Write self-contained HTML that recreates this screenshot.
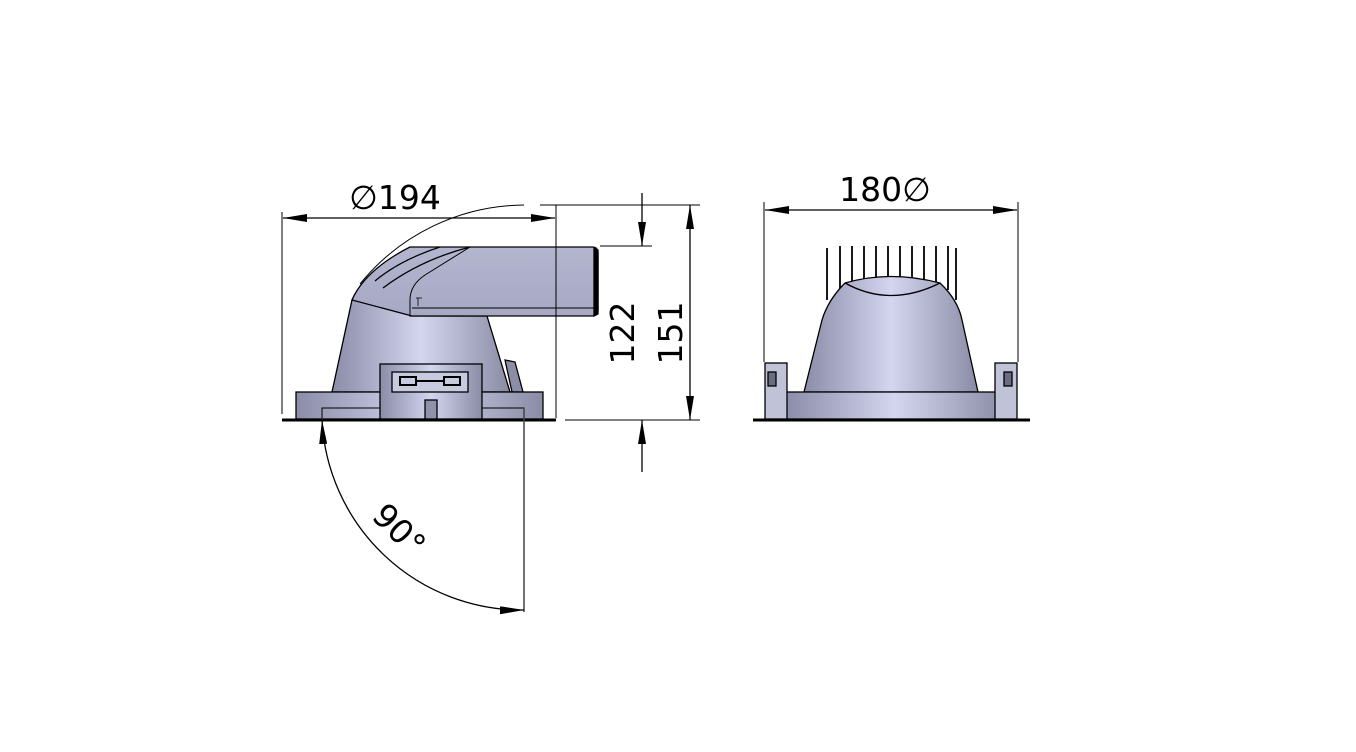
<!DOCTYPE html>
<html><head><style>html,body{margin:0;padding:0;background:#fff;}svg{display:block}</style></head>
<body>
<svg width="1356" height="752" viewBox="0 0 1356 752" xmlns="http://www.w3.org/2000/svg" font-family="DejaVu Sans, Liberation Sans, sans-serif">
<defs>
<linearGradient id="g" x1="0" x2="1" y1="0" y2="0">
<stop offset="0" stop-color="#8a8ca8"/><stop offset="0.5" stop-color="#d4d6f0"/><stop offset="1" stop-color="#8a8ca6"/>
</linearGradient>
<linearGradient id="gh" x1="0" x2="0" y1="0" y2="1">
<stop offset="0" stop-color="#b4b6d0"/><stop offset="1" stop-color="#a6a8c4"/>
</linearGradient>
<marker id="a" viewBox="0 0 24 8" refX="24" refY="4" markerWidth="24" markerHeight="8" markerUnits="userSpaceOnUse" orient="auto-start-reverse"><path d="M0,0 L24,4 L0,8z" fill="#000"/></marker>
</defs>
<g stroke="#000" stroke-width="1.3" fill="none">
<path d="M332,392 L352,300 Q360,282 375,276 L410,316 L487,316 L510,392 Z" fill="url(#g)"/>
<path d="M505,360 L515,362 L523,392 L512,392 Z" fill="#8c8ea8"/>
<path d="M352,300 Q365,270 410,247 L592,247 Q598,247 598,253 L598,310 Q598,316 592,316 L412,316 Z" fill="url(#gh)"/>
<path d="M594,248 L598,250 L598,314 L594,316 Z" fill="#000"/>
<path d="M375,281 Q400,260 440,247"/>
<path d="M383,288 Q420,260 470,247"/>
<path d="M410,316 L410,300 Q410,285 425,275 L470,247" stroke-width="1"/>
<path d="M412,308 L595,308" stroke-width="1"/>
<path d="M418,298 L418,306 M416,298 L422,298" stroke-width="0.8"/>
<rect x="296" y="392" width="247" height="27" fill="url(#g)"/>
<path d="M322,418 L322,408 L524,408 L524,418" stroke-width="1"/>
<rect x="380" y="364" width="102" height="55" fill="url(#g)"/>
<rect x="392" y="372" width="76" height="20" fill="#c8cae0"/>
<path d="M400,377 H416 V385 H400 Z M444,377 H460 V385 H444 Z M416,381 H444" stroke-width="2"/>
<rect x="425" y="400" width="12" height="19" fill="#9092ac"/>
<line x1="282" y1="420" x2="556" y2="420" stroke-width="3"/>
<line x1="282" y1="212" x2="282" y2="414" stroke-width="1"/>
<line x1="556" y1="205" x2="556" y2="418" stroke-width="1"/>
<line x1="283" y1="218" x2="555" y2="218" marker-start="url(#a)" marker-end="url(#a)"/>
<path d="M524,205 A213,213 0 0 0 360,284" stroke-width="1"/>
<line x1="540" y1="205" x2="700" y2="205" stroke-width="1"/>
<line x1="600" y1="246" x2="652" y2="246" stroke-width="1"/>
<line x1="565" y1="420" x2="700" y2="420" stroke-width="1"/>
<line x1="642" y1="193" x2="642" y2="246" marker-end="url(#a)"/>
<line x1="642" y1="472" x2="642" y2="420" marker-end="url(#a)"/>
<line x1="690" y1="205" x2="690" y2="420" marker-start="url(#a)" marker-end="url(#a)"/>
<line x1="524" y1="408" x2="524" y2="612" stroke-width="1.5" stroke="#444"/>
<path d="M322,420 A200,200 0 0 0 524,610" marker-start="url(#a)" marker-end="url(#a)"/>
<g stroke-width="1.8">
<line x1="827" y1="300" x2="827" y2="248"/><line x1="840" y1="290" x2="840" y2="246"/>
<line x1="852" y1="285" x2="852" y2="246"/><line x1="864" y1="282" x2="864" y2="246"/>
<line x1="876" y1="280" x2="876" y2="246"/><line x1="888" y1="280" x2="888" y2="246"/>
<line x1="900" y1="280" x2="900" y2="246"/><line x1="912" y1="280" x2="912" y2="246"/>
<line x1="924" y1="282" x2="924" y2="246"/><line x1="936" y1="285" x2="936" y2="246"/>
<line x1="948" y1="290" x2="948" y2="246"/><line x1="956" y1="300" x2="956" y2="248"/>
</g>
<path d="M804,392 L822,320 Q828,300 845,283 Q890,270 940,283 Q958,300 962,320 L978,392 Z" fill="url(#g)"/>
<path d="M845,283 Q890,308 940,283" stroke-width="1.3"/>
<rect x="785" y="392" width="220" height="27" fill="url(#g)"/>
<rect x="765" y="363" width="22" height="56" fill="#c0c2d8"/>
<rect x="768" y="372" width="8" height="14" fill="#6a6c80"/>
<rect x="995" y="363" width="22" height="56" fill="#c0c2d8"/>
<rect x="1004" y="372" width="8" height="14" fill="#6a6c80"/>
<line x1="753" y1="420" x2="1030" y2="420" stroke-width="3"/>
<line x1="764" y1="202" x2="764" y2="362" stroke-width="1"/>
<line x1="1018" y1="202" x2="1018" y2="362" stroke-width="1"/>
<line x1="765" y1="210" x2="1017" y2="210" marker-start="url(#a)" marker-end="url(#a)"/>
</g>
<g fill="#000" font-size="33">
<text x="395" y="209" text-anchor="middle">∅194</text>
<text x="885" y="201" text-anchor="middle">180∅</text>
<text transform="translate(634,333) rotate(-90)" text-anchor="middle">122</text>
<text transform="translate(682,333) rotate(-90)" text-anchor="middle">151</text>
<text transform="translate(391,538) rotate(45)" text-anchor="middle">90°</text>
</g>
</svg>
</body></html>
